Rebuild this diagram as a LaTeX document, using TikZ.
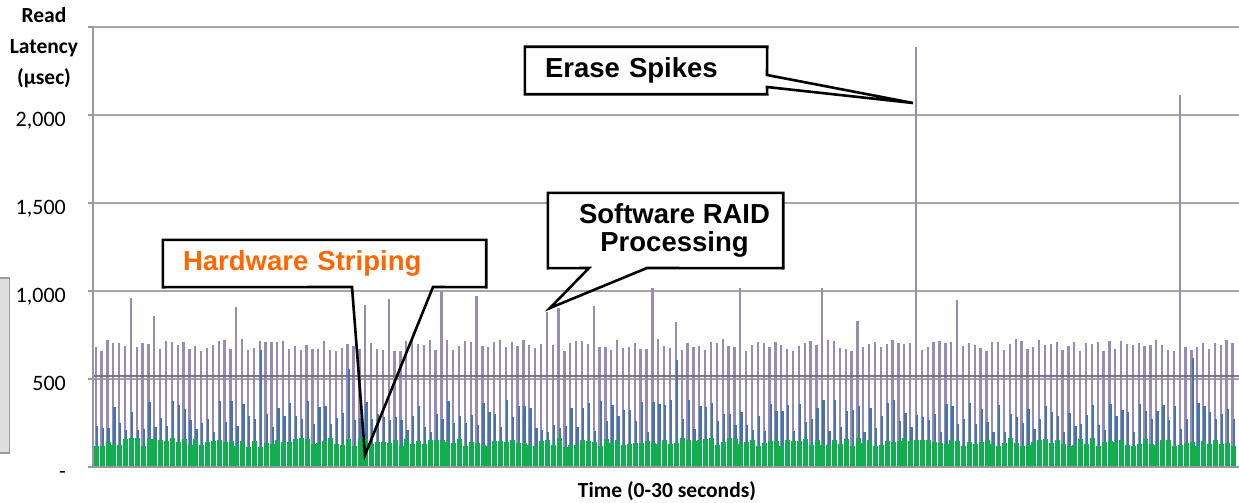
\documentclass[tikz,border=0pt]{standalone}
\usepackage{fontspec}
\setmainfont{Liberation Sans}
\newfontfamily\calibri{Carlito}

\definecolor{lavbar}{RGB}{152,140,180}
\definecolor{bluebar}{RGB}{70,116,172}
\definecolor{greenbar}{RGB}{16,174,78}
\definecolor{gridgray}{RGB}{166,166,166}
\definecolor{avgline}{RGB}{108,98,120}
\definecolor{hworange}{RGB}{255,102,0}

\tikzset{
  callbox/.style={fill=white, inner sep=0, font=\fontsize{27.5}{28}\selectfont\bfseries},
  callline/.style={draw=black, line width=2.6, line join=miter},
  gridline/.style={gridgray, line width=1.8},
  axisline/.style={gray!80, line width=1.6},
  ticklabel/.style={inner sep=0, font=\calibri\fontsize{22}{25}\selectfont},
  axislabel/.style={inner sep=0, align=center, font=\calibri\bfseries\fontsize{21.5}{31}\selectfont},
}

\begin{document}
\begin{tikzpicture}[x=1pt, y=-1pt]
\useasboundingbox (0,0) rectangle (1239,503);

% spikes (bar index / latency)
\foreach \k/\v in {6/960, 10/858, 24/909, 46/920, 50/955, 59/1000, 65/972, 77/881, 79/903,
  85/915, 95/1017, 99/824, 110/1017, 124/1017, 130/830, 140/2386, 147/949, 185/2114}
  {\expandafter\xdef\csname lat\k\endcsname{\v}}
\foreach \k/\v in {28/665, 43/557, 99/608, 187/619}
  {\expandafter\xdef\csname blu\k\endcsname{\v}}

\fill[gray!25, draw=gray!80, line width=1.2] (-2,278) rectangle (9.5,453);

\begin{scope}[shift={(0,467)}, y=0.176pt]
  \foreach \g in {500,1000,1500,2000,2500}
    \draw[gridline] (93,\g) -- (1239,\g);
  \pgfmathsetseed{2012}
  \foreach \i in {0,...,194}{
    \pgfmathsetmacro\xb{96+5.86*\i}
    \pgfmathsetmacro\pv{690+35*rand}
    \pgfmathsetmacro\bv{290+95*rand}
    \pgfmathsetmacro\gv{140+25*rand}
    \ifcsname lat\i\endcsname \edef\pv{\csname lat\i\endcsname}\fi
    \ifcsname blu\i\endcsname \edef\bv{\csname blu\i\endcsname}\fi
    \fill[lavbar] (\xb-1.5,0) rectangle (\xb+0.8,\pv);
    \fill[bluebar] (\xb-0.3,0) rectangle (\xb+2,\bv);
    \fill[greenbar] (\xb-2.2,0) rectangle (\xb+2.8,\gv);
  }
  \draw[avgline, line width=2.2, opacity=0.85] (93,517) -- (1239,517);
  \draw[axisline] (93,2500) -- (93,0) -- (1239,0);
  \foreach \g in {0,500,...,2500}
    \draw[axisline] (88,\g) -- (93,\g);
\end{scope}

\foreach \yy/\lab in {115/{2,000}, 203/{1,500}, 291/{1,000}, 379/500, 467/-}
  \node[ticklabel, anchor=base east] (tick\yy) at (66,\yy+11) {\lab};

\node[axislabel, anchor=north] (ylab) at (44,7) {Read\\Latency\\(µsec)};
\node[axislabel, anchor=base] (xlab) at (667,497) {Time (0-30 seconds)};

% callouts
\node[callbox, minimum width=242, minimum height=47, text width=202, align=left] (erase) at (646,70.5) {Erase Spikes};
\coordinate (eraseA) at (767,75);
\coordinate (eraseB) at (767,87);
\coordinate (eraseTip) at (913,103);
\draw[callline] (erase.north west) -- (erase.north east) -- (eraseA) -- (eraseTip) -- (eraseB)
  -- (erase.south east) -- (erase.south west) -- cycle;

\node[callbox, text=hworange, minimum width=323, minimum height=47, text width=283, align=left] (hw) at (324.5,263.5) {Hardware Striping};
\coordinate (hwA) at (352,287);
\coordinate (hwB) at (433,287);
\coordinate (hwTip) at (365,455);
\draw[callline] (hw.north west) -- (hw.north east) -- (hw.south east) -- (hwB) -- (hwTip) -- (hwA)
  -- (hw.south west) -- cycle;

\node[callbox, minimum width=235, minimum height=75, align=center] (sw) at (665.5,230.5) {\hspace*{18pt}Software RAID\\\hspace*{18pt}Processing};
\coordinate (swA) at (589,268);
\coordinate (swB) at (647,268);
\coordinate (swTip) at (550,308);
\draw[callline] (sw.north west) -- (sw.north east) -- (sw.south east) -- (swB) -- (swTip) -- (swA)
  -- (sw.south west) -- cycle;
\end{tikzpicture}
\end{document}
